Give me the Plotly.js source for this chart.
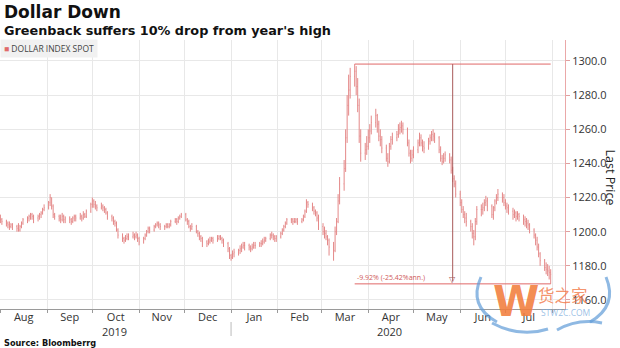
<!DOCTYPE html>
<html><head><meta charset="utf-8">
<script src="https://cdn.plot.ly/plotly-3.0.1.min.js"></script>
<style>html,body{margin:0;padding:0;background:#fff}#chart{width:620px;height:348px}</style>
</head><body><div id="chart"></div>
<script>
// Bloomberg Dollar Spot Index, daily OHLC, 2019-08-01 .. 2020-07-31 (weekdays)
const startDate = '2019-08-01';
const endDate = '2020-07-31';
const seriesName = 'DOLLAR INDEX SPOT';
const yearLabels = ['2019','2020'];
const yearLabelDates = ['2019-10-16','2020-04-15'];

const open = [1208,1207,
1206,1205,1204,1203,1204, 1203,1202,1201,1203,1205, 1207,1208,1209,1210,1209, 1208,1209,1210,1211,1213,
1214,1217,1220,1215,1210, 1209,1208,1207,1209,1207, 1208,1207,1206,1208,1209, 1208,1209,1208,1210,1209,
1212,1216,1218,1216,1215, 1214,1215,1214,1213,1211, 1209,1208,1206,1205,1201, 1198,1196,1195,1196,1197,
1197,1198,1197,1198,1196, 1194,1196,1198,1200,1202, 1201,1203,1204,1205,1204, 1203,1203,1204,1203,1204,
1206,1207,1206,1208,1209, 1210,1207,1206,1203,1202, 1203,1200,1199,1197,1196, 1194,1193,1194,1195,1196,
1195,1196,1197,1196,1195, 1193,1190,1186,1185,1187, 1188,1189,1190,1191,1192, 1192,1191,1190,1191,1192,
1192,1193,1193,1194,1195, 1196,1198,1198,1197,1196, 1197,1199,1201,1203,1205, 1207,1207,1206,1206,1207,
1206,1207,1209,1212,1217, 1216,1214,1212,1211,1208, 1203,1200,1199,1197,1195, 1191,1189,1200,1206,1218,
1228,1237,1255,1274,1283, 1291,1294,1285,1274,1256, 1246,1248,1250,1255,1259, 1264,1268,1263,1256,1254,
1249,1243,1241,1250,1254, 1255,1257,1260,1261,1262, 1260,1252,1246,1243,1245, 1248,1252,1255,1252,1250,
1249,1253,1255,1257,1256, 1255,1248,1243,1241,1243, 1245,1242,1236,1231,1228, 1222,1217,1213,1210,1208,
1206,1203,1199,1197,1206, 1213,1213,1214,1217,1218, 1215,1210,1214,1218,1220, 1222,1220,1217,1215,1214,
1212,1210,1211,1209,1210, 1209,1207,1206,1205,1204, 1201,1198,1195,1191,1187, 1183,1179,1178,1177,1176];

const high = [1210,1208,
1207,1206,1206,1205,1205, 1204,1205,1204,1206,1208, 1209,1210,1211,1211,1210, 1210,1211,1212,1214,1216,
1218,1222,1220,1216,1211, 1210,1210,1211,1210,1209, 1209,1208,1209,1210,1210, 1211,1210,1212,1211,1213,
1217,1220,1219,1218,1216, 1217,1216,1215,1214,1212, 1210,1209,1207,1206,1202, 1199,1197,1198,1199,1199,
1200,1199,1200,1199,1197, 1197,1199,1201,1203,1203, 1204,1205,1206,1206,1205, 1204,1205,1205,1205,1207,
1208,1208,1209,1210,1211, 1211,1208,1207,1204,1205, 1204,1201,1200,1198,1197, 1195,1196,1197,1197,1197,
1198,1198,1198,1197,1196, 1194,1191,1187,1189,1190, 1190,1192,1193,1194,1194, 1193,1192,1193,1194,1194,
1194,1195,1196,1197,1197, 1199,1200,1199,1198,1198, 1200,1202,1204,1206,1208, 1208,1208,1208,1208,1208,
1208,1210,1213,1219,1218, 1217,1215,1213,1212,1210, 1205,1203,1201,1198,1196, 1194,1203,1208,1222,1232,
1242,1260,1280,1292,1296, 1298.2,1297,1290,1278,1260, 1252,1256,1260,1263,1268, 1272,1269,1265,1260,1256,
1251,1246,1252,1256,1258, 1259,1263,1264,1265,1264, 1261,1254,1248,1248,1250, 1254,1258,1257,1254,1253,
1255,1257,1259,1260,1258, 1256,1250,1245,1246,1247, 1246,1244,1238,1233,1230, 1224,1219,1215,1212,1211,
1207,1205,1201,1208,1215, 1216,1217,1219,1221,1220, 1216,1215,1219,1222,1225, 1223,1222,1219,1217,1216,
1214,1213,1212,1212,1211, 1210,1209,1208,1207,1205, 1202,1199,1197,1193,1188, 1184,1182,1181,1180,1178];

const low = [1205,1204,
1203,1202,1201,1202,1201, 1200,1200,1200,1202,1204, 1205,1206,1207,1207,1205, 1206,1207,1208,1210,1212,
1213,1215,1213,1208,1207, 1206,1205,1206,1205,1205, 1205,1204,1205,1206,1206, 1207,1206,1207,1208,1208,
1211,1214,1214,1213,1212, 1213,1212,1211,1210,1207, 1206,1204,1203,1200,1196, 1194,1193,1194,1195,1195,
1196,1195,1196,1194,1192, 1193,1195,1197,1199,1199, 1200,1202,1203,1202,1201, 1201,1202,1202,1202,1203,
1205,1204,1205,1207,1208, 1206,1204,1202,1200,1201, 1199,1197,1195,1194,1191, 1191,1192,1193,1194,1193,
1194,1195,1195,1193,1191, 1188,1184,1183,1184,1185, 1186,1187,1188,1190,1189, 1189,1188,1189,1190,1190,
1191,1191,1192,1193,1194, 1195,1196,1195,1194,1194, 1196,1198,1200,1202,1204, 1205,1204,1205,1205,1204,
1205,1206,1208,1211,1214, 1212,1210,1209,1206,1201, 1198,1196,1195,1192,1186, 1183,1188,1198,1205,1216,
1224,1235,1252,1268,1278, 1285,1280,1270,1252,1241, 1242,1245,1248,1252,1257, 1261,1258,1253,1250,1246,
1241,1238,1240,1248,1251, 1253,1255,1257,1258,1257, 1250,1244,1240,1241,1243, 1246,1250,1250,1247,1246,
1248,1251,1253,1253,1252, 1246,1241,1239,1240,1241, 1240,1234,1229,1226,1220, 1215,1211,1208,1205,1203,
1200,1196,1192,1195,1204, 1209,1210,1212,1215,1212, 1208,1207,1212,1216,1218, 1217,1215,1213,1211,1210,
1207,1208,1206,1207,1206, 1204,1203,1202,1201,1199, 1196,1192,1189,1185,1180, 1177,1175,1174,1172,1169.43];

const close = [1207,1206,
1205,1204,1203,1204,1203, 1202,1201,1203,1205,1207, 1208,1209,1210,1209,1208, 1209,1210,1211,1213,1214,
1217,1220,1215,1210,1209, 1208,1207,1209,1207,1208, 1207,1206,1208,1209,1208, 1209,1208,1210,1209,1212,
1216,1218,1216,1215,1214, 1215,1214,1213,1211,1209, 1208,1206,1205,1201,1198, 1196,1195,1196,1197,1197,
1198,1197,1198,1196,1194, 1196,1198,1200,1202,1201, 1203,1204,1205,1204,1203, 1203,1204,1203,1204,1206,
1207,1206,1208,1209,1210, 1207,1206,1203,1202,1203, 1200,1199,1197,1196,1194, 1193,1194,1195,1196,1195,
1196,1197,1196,1195,1193, 1190,1186,1185,1187,1188, 1189,1190,1191,1192,1192, 1191,1190,1191,1192,1192,
1193,1193,1194,1195,1196, 1198,1198,1197,1196,1197, 1199,1201,1203,1205,1207, 1207,1206,1206,1207,1206,
1207,1209,1212,1217,1216, 1214,1212,1211,1208,1203, 1200,1199,1197,1195,1191, 1189,1200,1206,1218,1228,
1237,1255,1274,1283,1291, 1294,1285,1274,1256,1246, 1248,1250,1255,1259,1264, 1268,1263,1256,1254,1249,
1243,1241,1250,1254,1255, 1257,1260,1261,1262,1260, 1252,1246,1243,1245,1248, 1252,1255,1252,1250,1249,
1253,1255,1257,1256,1255, 1248,1243,1241,1243,1245, 1242,1236,1231,1228,1222, 1217,1213,1210,1208,1206,
1203,1199,1197,1206,1213, 1213,1214,1217,1218,1215, 1210,1214,1218,1220,1222, 1220,1217,1215,1214,1212,
1210,1211,1209,1210,1209, 1207,1206,1205,1204,1201, 1198,1195,1191,1187,1183, 1179,1178,1177,1176,1175];

// weekday dates
function weekdays(a, b) {
  const out = [];
  let d = new Date(a + 'T00:00:00Z');
  const e = new Date(b + 'T00:00:00Z');
  while (d <= e) {
    const w = d.getUTCDay();
    if (w !== 0 && w !== 6) out.push(d.toISOString().slice(0, 10));
    d = new Date(d.getTime() + 864e5);
  }
  return out;
}
const dates = weekdays(startDate, endDate);

// measurement annotation (peak high -> period low)
const peak = Math.max(...high);
const peakIdx = high.indexOf(peak);
const lowVal = Math.min(...low);
const tPeak = Date.parse(dates[peakIdx]);
const tEnd = Date.parse(dates[dates.length - 1]);
const midDate = new Date((tPeak + tEnd) / 2).toISOString().slice(0, 10);
const nDays = (tEnd - tPeak) / 864e5;
const pct = (lowVal / peak - 1) * 100;
const ann = (Math.pow(lowVal / peak, 365 / nDays) - 1) * 100;

const red = '#e48888';
const trace = {
  type: 'ohlc', x: dates, open: open, high: high, low: low, close: close,
  increasing: {line: {color: red, width: 1}},
  decreasing: {line: {color: red, width: 1}},
  tickwidth: 0.3, showlegend: false, hoverinfo: 'skip'
};

// pixel -> paper helpers (plot area: x 0..565, y 40..309)
const PX = (xpx) => xpx / 565;
const P = (ypx) => (309 - ypx) / 269;
function pathPx(cmds) {
  return cmds.map(c => typeof c === 'string' ? c : (PX(c[0]).toFixed(4) + ',' + P(c[1]).toFixed(4))).join(' ');
}
const laurel = 'rgba(95,155,215,0.7)';

const layout = {
  width: 620, height: 348,
  margin: {l: 0, r: 55, t: 40, b: 39},
  paper_bgcolor: '#ffffff', plot_bgcolor: '#ffffff',
  font: {family: 'Open Sans, sans-serif', size: 11, color: '#333'},
  showlegend: false,
  xaxis: {
    type: 'date',
    range: ['2019-07-31 18:00', '2020-08-09 12:00'],
    rangeslider: {visible: false},
    dtick: 'M1', tick0: '2019-08-01', tickformat: '%b', ticklabelmode: 'period',
    showgrid: true, gridcolor: '#e8e8e8', gridwidth: 1,
    showline: true, linecolor: '#9a9a9a', linewidth: 1,
    ticks: 'outside', ticklen: 3, tickcolor: '#9a9a9a',
    ticklabelstandoff: -5,
    tickfont: {family: 'Open Sans, sans-serif', size: 11, color: '#333'},
    zeroline: false, fixedrange: true
  },
  yaxis: {
    side: 'right',
    range: [1154.7, 1312.3],
    dtick: 20, tick0: 1160, tickformat: '.1f',
    showgrid: true, gridcolor: '#e8e8e8', gridwidth: 1,
    showline: true, linecolor: '#eaa8a8', linewidth: 1,
    ticks: 'outside', ticklen: 4, tickcolor: '#e0a0a0',
    tickfont: {family: 'Open Sans, sans-serif', size: 11, color: '#333'},
    zeroline: false, fixedrange: true
  },
  shapes: [
    {type: 'line', xref: 'x', yref: 'y', x0: dates[peakIdx], x1: dates[dates.length - 1], y0: peak, y1: peak,
     line: {color: '#e06868', width: 1}},
    {type: 'line', xref: 'x', yref: 'y', x0: dates[peakIdx], x1: dates[dates.length - 1], y0: lowVal, y1: lowVal,
     line: {color: '#e06868', width: 1}},
    {type: 'line', xref: 'x', yref: 'y', x0: midDate, x1: midDate, y0: peak, y1: lowVal + 1.5,
     line: {color: '#a85a5a', width: 1}},
    {type: 'line', xref: 'x', yref: 'paper', x0: '2020-01-01', x1: '2020-01-01', y0: P(322), y1: P(336),
     line: {color: '#bbbbbb', width: 1}},
    // watermark laurel
    {type: 'path', xref: 'paper', yref: 'paper', layer: 'above', line: {color: laurel, width: 3},
     path: pathPx(['M', [481, 277], 'Q', [468, 306], [497, 322]])},
    {type: 'path', xref: 'paper', yref: 'paper', layer: 'above', line: {color: laurel, width: 3},
     path: pathPx(['M', [492, 323], 'Q', [520, 338], [548, 329]])},
    {type: 'path', xref: 'paper', yref: 'paper', layer: 'above', line: {color: laurel, width: 3},
     path: pathPx(['M', [606, 277], 'Q', [618, 306], [590, 322]])},
    {type: 'path', xref: 'paper', yref: 'paper', layer: 'above', line: {color: laurel, width: 3},
     path: pathPx(['M', [557, 330], 'Q', [578, 318], [602, 323]])}
  ],
  annotations: [
    {xref: 'paper', yref: 'paper', x: PX(2), y: P(12), xanchor: 'left', yanchor: 'middle', showarrow: false,
     text: '<b>Dollar Down</b>', font: {family: 'DejaVu Sans, sans-serif', size: 17, color: '#111'}},
    {xref: 'paper', yref: 'paper', x: PX(2), y: P(30), xanchor: 'left', yanchor: 'middle', showarrow: false,
     text: "<b>Greenback suffers 10% drop from year's high</b>", font: {family: 'DejaVu Sans, sans-serif', size: 12.8, color: '#111'}},
    {xref: 'paper', yref: 'paper', x: 0, y: P(48.5), xanchor: 'left', yanchor: 'middle', showarrow: false,
     text: '<span style="color:#e06a6a">■</span> ' + seriesName, bgcolor: '#f1f1f1', borderpad: 3,
     font: {family: 'Open Sans, sans-serif', size: 8.5, color: '#444'}},
    {xref: 'paper', yref: 'paper', x: PX(610.5), y: P(177), xanchor: 'center', yanchor: 'middle', showarrow: false,
     text: 'Last Price', textangle: 90, font: {family: 'Open Sans, sans-serif', size: 12.5, color: '#222'}},
    {xref: 'x', yref: 'paper', x: yearLabelDates[0], y: P(331), xanchor: 'center', yanchor: 'middle', showarrow: false,
     text: yearLabels[0], font: {family: 'Open Sans, sans-serif', size: 11, color: '#333'}},
    {xref: 'x', yref: 'paper', x: yearLabelDates[1], y: P(331), xanchor: 'center', yanchor: 'middle', showarrow: false,
     text: yearLabels[1], font: {family: 'Open Sans, sans-serif', size: 11, color: '#333'}},
    {xref: 'paper', yref: 'paper', x: PX(2), y: P(342.5), xanchor: 'left', yanchor: 'middle', showarrow: false,
     text: '<b>Source: Bloomberrg</b>', font: {family: 'DejaVu Sans, sans-serif', size: 8.2, color: '#111'}},
    {xref: 'x', yref: 'y', x: dates[peakIdx], y: lowVal, xanchor: 'left', yanchor: 'bottom', showarrow: false,
     text: pct.toFixed(2) + '% (' + ann.toFixed(2) + '%ann.)', font: {family: 'Open Sans, sans-serif', size: 7, color: '#d05a5a'}},
    {xref: 'x', yref: 'y', x: midDate, y: lowVal, xanchor: 'center', yanchor: 'bottom', showarrow: false, yshift: -2,
     text: '▽', font: {family: 'DejaVu Sans, sans-serif', size: 8, color: '#a85a5a'}},
    // watermark
    {xref: 'paper', yref: 'paper', x: PX(516), y: P(301), xanchor: 'center', yanchor: 'middle', showarrow: false,
     text: '<b>W</b>', font: {family: 'DejaVu Sans, sans-serif', size: 42, color: 'rgba(242,125,60,0.9)'}},
    {xref: 'paper', yref: 'paper', x: PX(536), y: P(295), xanchor: 'left', yanchor: 'middle', showarrow: false,
     text: '货之家', font: {family: 'Noto Sans CJK SC, sans-serif', size: 16.5, color: 'rgba(242,120,70,0.8)'}},
    {xref: 'paper', yref: 'paper', x: PX(539), y: P(312), xanchor: 'left', yanchor: 'middle', showarrow: false,
     text: 'STW2C.COM', font: {family: 'Open Sans, sans-serif', size: 8.5, color: 'rgba(120,170,220,0.75)'}}
  ]
};

Plotly.newPlot('chart', [trace], layout, {displayModeBar: false, staticPlot: true});
</script>
</body></html>
